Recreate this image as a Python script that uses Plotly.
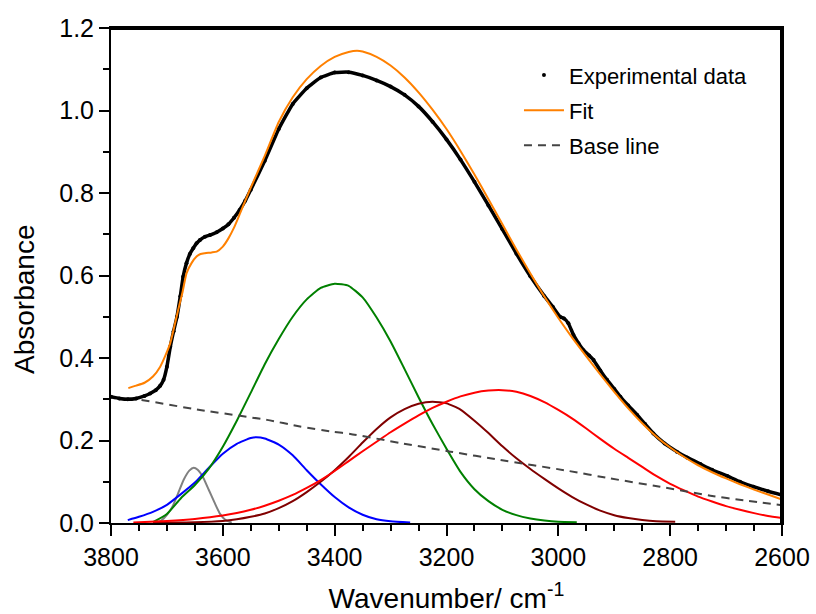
import plotly.graph_objects as go

# ---------------- data ----------------
exp_wn = [3800, 3785, 3770, 3755, 3740, 3730, 3720, 3712, 3706, 3700, 3694, 3688, 3682, 3676,
          3671, 3665, 3659, 3653, 3647, 3641, 3632, 3623, 3611, 3600, 3590, 3580, 3570, 3560,
          3550, 3525, 3500, 3475, 3450, 3425, 3400, 3375, 3350, 3325, 3300, 3275, 3250, 3225,
          3200, 3175, 3150, 3125, 3100, 3075, 3050, 3025, 3010, 2997, 2990, 2982, 2973, 2964,
          2955, 2945, 2937, 2925, 2913, 2900, 2889, 2875, 2859, 2845, 2830, 2810, 2788, 2770,
          2746, 2725, 2698, 2675, 2651, 2625, 2600]
exp_abs = [0.306, 0.302, 0.300, 0.302, 0.308, 0.314, 0.322, 0.333, 0.347, 0.379, 0.427, 0.465,
           0.500, 0.550, 0.597, 0.630, 0.652, 0.666, 0.678, 0.686, 0.694, 0.698, 0.705, 0.714,
           0.724, 0.740, 0.759, 0.781, 0.808, 0.878, 0.955, 1.016, 1.054, 1.080, 1.092, 1.093,
           1.085, 1.073, 1.058, 1.038, 1.010, 0.973, 0.930, 0.881, 0.827, 0.770, 0.712, 0.653,
           0.598, 0.550, 0.524, 0.500, 0.496, 0.484, 0.456, 0.436, 0.419, 0.406, 0.395, 0.370,
           0.347, 0.325, 0.306, 0.285, 0.262, 0.240, 0.217, 0.193, 0.173, 0.159, 0.143, 0.129,
           0.114, 0.100, 0.088, 0.077, 0.068]

fit_wn = [3769, 3755, 3740, 3725, 3712, 3703, 3694, 3687, 3680, 3672, 3665, 3656, 3647, 3640,
          3632, 3620, 3611, 3600, 3590, 3580, 3570, 3560, 3550, 3525, 3500, 3475, 3450, 3425,
          3400, 3375, 3360, 3350, 3325, 3300, 3275, 3250, 3225, 3200, 3175, 3150, 3125, 3100,
          3075, 3050, 3025, 3000, 2975, 2950, 2925, 2900, 2875, 2850, 2825, 2800, 2775, 2750,
          2725, 2700, 2675, 2650, 2625, 2600]
fit_abs = [0.327, 0.333, 0.340, 0.355, 0.379, 0.405, 0.436, 0.475, 0.516, 0.560, 0.605, 0.630,
           0.646, 0.652, 0.654, 0.656, 0.658, 0.670, 0.690, 0.716, 0.748, 0.781, 0.813, 0.890,
           0.972, 1.032, 1.076, 1.108, 1.130, 1.142, 1.145, 1.143, 1.130, 1.109, 1.080, 1.044,
           1.002, 0.955, 0.902, 0.845, 0.785, 0.724, 0.663, 0.605, 0.549, 0.497, 0.449, 0.404,
           0.360, 0.318, 0.278, 0.242, 0.210, 0.183, 0.160, 0.140, 0.123, 0.108, 0.094, 0.081,
           0.069, 0.057]

base_wn = [3770, 3754, 3641, 3521, 3462, 3402, 3372, 3283, 3193, 3104, 2985, 2907, 2818, 2728,
           2669, 2600]
base_abs = [0.302, 0.300, 0.274, 0.250, 0.234, 0.221, 0.216, 0.194, 0.173, 0.153, 0.127, 0.108,
            0.088, 0.066, 0.055, 0.043]

gray_wn = [3718, 3710, 3700, 3690, 3680, 3670, 3660, 3652, 3645, 3635, 3625, 3615, 3605, 3595, 3584]
gray_abs = [0.001, 0.006, 0.020, 0.040, 0.072, 0.105, 0.127, 0.134, 0.129, 0.110, 0.080, 0.050,
            0.022, 0.007, 0.001]

blue_wn = [3770, 3750, 3725, 3700, 3675, 3650, 3625, 3600, 3575, 3550, 3540, 3525, 3500, 3475,
           3450, 3425, 3400, 3375, 3350, 3325, 3300, 3265]
blue_abs = [0.007, 0.015, 0.027, 0.044, 0.070, 0.098, 0.134, 0.168, 0.192, 0.206, 0.208, 0.205,
            0.190, 0.164, 0.128, 0.094, 0.063, 0.038, 0.020, 0.009, 0.004, 0.001]

green_wn = [3725, 3700, 3675, 3650, 3625, 3600, 3575, 3550, 3525, 3500, 3475, 3450, 3425, 3400,
            3375, 3350, 3325, 3300, 3275, 3250, 3225, 3200, 3175, 3150, 3125, 3100, 3075, 3050,
            3025, 3000, 2967]
green_abs = [0.002, 0.022, 0.060, 0.092, 0.132, 0.185, 0.248, 0.316, 0.385, 0.446, 0.500, 0.542,
             0.570, 0.580, 0.575, 0.547, 0.498, 0.440, 0.373, 0.305, 0.240, 0.180, 0.124, 0.082,
             0.053, 0.032, 0.019, 0.011, 0.006, 0.003, 0.002]

maroon_wn = [3725, 3650, 3600, 3575, 3550, 3525, 3500, 3475, 3450, 3425, 3400, 3375, 3350, 3325,
             3300, 3275, 3250, 3225, 3200, 3175, 3150, 3125, 3100, 3075, 3050, 3025, 3000, 2975,
             2950, 2925, 2900, 2875, 2850, 2825, 2791]
maroon_abs = [0.001, 0.002, 0.005, 0.009, 0.015, 0.023, 0.036, 0.053, 0.075, 0.100, 0.128, 0.160,
              0.195, 0.228, 0.256, 0.276, 0.289, 0.294, 0.290, 0.275, 0.248, 0.218, 0.186, 0.157,
              0.131, 0.107, 0.084, 0.063, 0.045, 0.030, 0.019, 0.012, 0.007, 0.004, 0.003]

red_wn = [3760, 3700, 3650, 3600, 3575, 3550, 3525, 3500, 3475, 3450, 3425, 3400, 3375, 3350,
          3325, 3300, 3275, 3250, 3225, 3200, 3175, 3150, 3125, 3100, 3075, 3050, 3025, 3000,
          2975, 2950, 2925, 2900, 2875, 2850, 2825, 2800, 2775, 2750, 2725, 2700, 2675, 2650,
          2625, 2600]
red_abs = [0.001, 0.005, 0.010, 0.018, 0.024, 0.032, 0.042, 0.054, 0.068, 0.085, 0.104, 0.126,
           0.150, 0.174, 0.197, 0.220, 0.241, 0.261, 0.279, 0.294, 0.307, 0.316, 0.321, 0.322,
           0.318, 0.308, 0.293, 0.274, 0.253, 0.229, 0.204, 0.180, 0.158, 0.136, 0.114, 0.095,
           0.079, 0.064, 0.052, 0.041, 0.032, 0.024, 0.017, 0.012]

x_ticks = [3800, 3600, 3400, 3200, 3000, 2800, 2600]
y_ticks = [0.0, 0.2, 0.4, 0.6, 0.8, 1.0, 1.2]

FONT = "Liberation Sans, Arial, sans-serif"

fig = go.Figure()

components = [
    (gray_wn, gray_abs, "#808080"),
    (blue_wn, blue_abs, "#0000FF"),
    (green_wn, green_abs, "#008000"),
    (maroon_wn, maroon_abs, "#800000"),
    (red_wn, red_abs, "#FF0000"),
]
for wn, ab, col in components:
    fig.add_trace(go.Scatter(x=wn, y=ab, mode="lines",
                             line=dict(color=col, width=2, shape="spline", smoothing=0.5),
                             showlegend=False, hoverinfo="skip"))

fig.add_trace(go.Scatter(x=base_wn, y=base_abs, mode="lines", name="Base line", legendrank=3,
                         legendgroup="c",
                         line=dict(color="#444444", width=2, dash="8px,6px", shape="spline", smoothing=0.5)))
fig.add_trace(go.Scatter(x=exp_wn, y=exp_abs, mode="lines", showlegend=False, legendgroup="a",
                         line=dict(color="black", width=3.5, shape="spline", smoothing=0.4)))
fig.add_trace(go.Scatter(x=exp_wn, y=exp_abs, mode="markers", name="Experimental data", legendrank=1,
                         legendgroup="a", marker=dict(color="black", size=4)))
fig.add_trace(go.Scatter(x=fit_wn, y=fit_abs, mode="lines", name="Fit", legendrank=2, legendgroup="b",
                         line=dict(color="#FF8000", width=2, shape="spline", smoothing=0.5)))

# top and right edges of the plot frame, along the axis limits
fig.add_trace(go.Scatter(x=[x_ticks[0], x_ticks[-1], x_ticks[-1]],
                         y=[y_ticks[-1], y_ticks[-1], y_ticks[0]],
                         mode="lines", line=dict(color="black", width=4),
                         showlegend=False, hoverinfo="skip"))

common_x = dict(range=[3800, 2600], tickvals=x_ticks, showline=True, linecolor="black", linewidth=2,
                showgrid=False, zeroline=False, tickcolor="black", tickwidth=2, automargin=False,
                mirror=True)
common_y = dict(range=[0, 1.2], tickvals=y_ticks, showline=True, linecolor="black", linewidth=2,
                showgrid=False, zeroline=False, tickcolor="black", tickwidth=2, automargin=False,
                mirror=True)

fig.update_layout(
    width=816, height=614,
    margin=dict(l=111, r=34, t=28, b=91),
    paper_bgcolor="white", plot_bgcolor="white",
    font=dict(family=FONT, color="black"),
    xaxis=dict(**common_x, ticks="outside", ticklen=11,
               tickfont=dict(size=25, family=FONT), ticktext=[str(v) for v in x_ticks],
               minor=dict(dtick=50, tick0=2600, ticks="outside", ticklen=6, tickcolor="black", tickwidth=2),
               title=dict(text="Wavenumber/ cm<sup>-1</sup>", font=dict(size=28, family=FONT), standoff=26)),
    yaxis=dict(**common_y, ticks="outside", ticklen=10, tickformat=".1f",
               tickfont=dict(size=25, family=FONT),
               minor=dict(dtick=0.1, tick0=0, ticks="outside", ticklen=6, tickcolor="black", tickwidth=2)),
    legend=dict(x=0.608, xanchor="left", y=0.947, yanchor="top", bgcolor="rgba(0,0,0,0)",
                font=dict(size=22, family=FONT, color="black"), traceorder="grouped",
                tracegroupgap=3.5, itemwidth=40),
    annotations=[dict(text="Absorbance", textangle=-90, xref="paper", yref="paper",
                      x=-0.1297, y=0.4525, xanchor="center", yanchor="middle", showarrow=False,
                      font=dict(size=28, family=FONT, color="black"))],
    showlegend=True,
)

fig.write_html("out.html")
